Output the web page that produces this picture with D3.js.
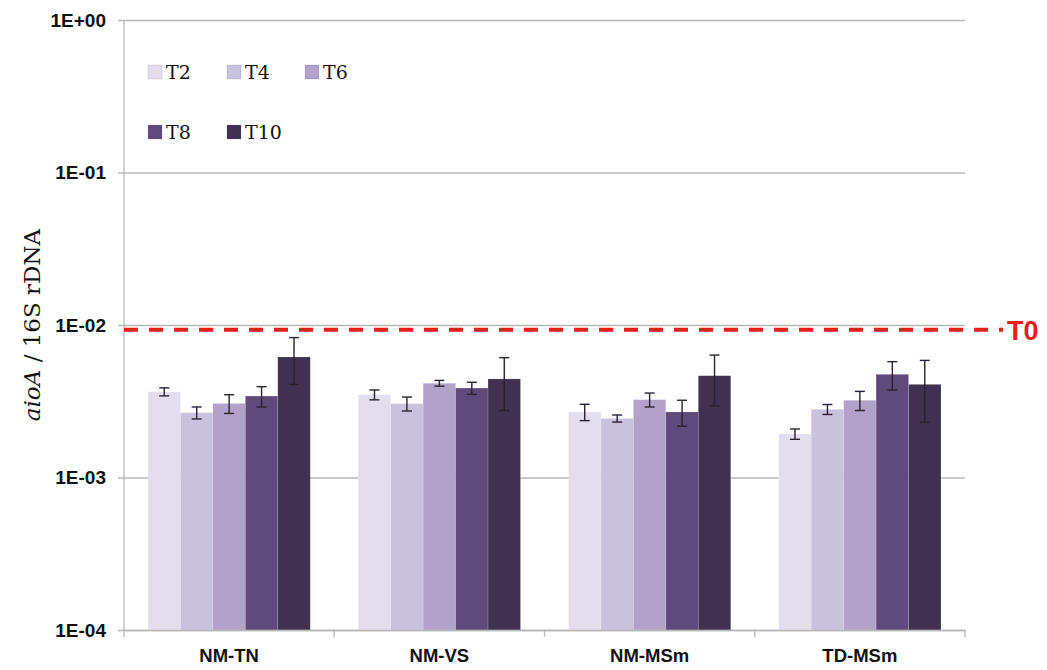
<!DOCTYPE html>
<html>
<head>
<meta charset="utf-8">
<script src="https://cdn.jsdelivr.net/npm/d3@7"></script>
<style>
  html, body { margin: 0; padding: 0; background: #fff; }
  svg { display: block; }
</style>
</head>
<body>
<svg id="chart" width="1047" height="670"></svg>
<script>
const categories = ["NM-TN", "NM-VS", "NM-MSm", "TD-MSm"];
const seriesNames = ["T2", "T4", "T6", "T8", "T10"];
const seriesColors = ["#e3deee", "#cac1dd", "#b1a2c9", "#5f4a7c", "#3f3150"];
const valuesT2  = [3.65e-3, 3.49e-3, 2.69e-3, 1.93e-3];
const valuesT4  = [2.66e-3, 3.05e-3, 2.44e-3, 2.80e-3];
const valuesT6  = [3.06e-3, 4.15e-3, 3.24e-3, 3.21e-3];
const valuesT8  = [3.42e-3, 3.86e-3, 2.69e-3, 4.75e-3];
const valuesT10 = [6.17e-3, 4.43e-3, 4.65e-3, 4.08e-3];
const errT2  = [0.22e-3, 0.26e-3, 0.33e-3, 0.15e-3];
const errT4  = [0.24e-3, 0.32e-3, 0.13e-3, 0.21e-3];
const errT6  = [0.43e-3, 0.18e-3, 0.34e-3, 0.46e-3];
const errT8  = [0.52e-3, 0.35e-3, 0.52e-3, 1.00e-3];
const errT10 = [2.10e-3, 1.68e-3, 1.70e-3, 1.78e-3];
const yTickValues = [1e-4, 1e-3, 1e-2, 1e-1, 1];
const yTickLabels = ["1E-04", "1E-03", "1E-02", "1E-01", "1E+00"];
const t0Value = 0.0093;
const t0Label = "T0";

const allValues = [valuesT2, valuesT4, valuesT6, valuesT8, valuesT10];
const allErrors = [errT2, errT4, errT6, errT8, errT10];
const data = [];
categories.forEach((c, ci) => {
  seriesNames.forEach((s, si) => {
    data.push({cat: c, series: s, si, value: allValues[si][ci], err: allErrors[si][ci]});
  });
});

const svg = d3.select("#chart");
svg.append("rect").attr("width", 1047).attr("height", 670).attr("fill", "#fff");

const pLeft = 124, pRight = 965, pTop = 20, pBottom = 630;
const y = d3.scaleLog().domain([1e-4, 1]).range([pBottom, pTop]);
const x0 = d3.scaleBand().domain(categories).range([pLeft, pRight]).paddingInner(0).paddingOuter(0);
const x1 = d3.scaleBand().domain(seriesNames).range([0, x0.bandwidth()]).paddingInner(0).paddingOuter(0.74);
const color = d3.scaleOrdinal().domain(seriesNames).range(seriesColors);

const gridColor = "#b8b8b8";

// Gridlines + y axis
const yAxis = d3.axisLeft(y).tickValues(yTickValues)
  .tickFormat((d, i) => yTickLabels[i])
  .tickSize(-(pRight - pLeft)).tickPadding(18);
const gy = svg.append("g").attr("transform", `translate(${pLeft},0)`).call(yAxis);
gy.select(".domain").remove();
gy.selectAll(".tick line").attr("stroke", gridColor).attr("stroke-width", 1.3).attr("x1", -6);
gy.selectAll(".tick text")
  .attr("font-family", "'Liberation Sans', Arial, sans-serif")
  .attr("font-weight", "bold").attr("font-size", 19).attr("fill", "#111");

// vertical axis line
svg.append("line").attr("x1", pLeft).attr("x2", pLeft).attr("y1", pTop).attr("y2", pBottom)
  .attr("stroke", gridColor).attr("stroke-width", 1.3);

// Bars
const groups = svg.append("g").selectAll("g").data(categories).join("g")
  .attr("transform", d => `translate(${x0(d)},0)`);
groups.selectAll("rect").data(c => data.filter(d => d.cat === c)).join("rect")
  .attr("x", d => x1(d.series))
  .attr("y", d => y(d.value))
  .attr("width", x1.bandwidth())
  .attr("height", d => y(1e-4) - y(d.value))
  .attr("fill", d => color(d.series))
  .attr("stroke", "rgba(255,255,255,0.25)").attr("stroke-width", 0.6);

// Error bars
const eb = groups.selectAll("g.err").data(c => data.filter(d => d.cat === c)).join("g").attr("class", "err");
eb.append("line")
  .attr("x1", d => x1(d.series) + x1.bandwidth() / 2)
  .attr("x2", d => x1(d.series) + x1.bandwidth() / 2)
  .attr("y1", d => y(d.value + d.err)).attr("y2", d => y(d.value - d.err))
  .attr("stroke", "#2a2230").attr("stroke-width", 1.4);
[1, -1].forEach(sgn => {
  eb.append("line")
    .attr("x1", d => x1(d.series) + x1.bandwidth() / 2 - 5)
    .attr("x2", d => x1(d.series) + x1.bandwidth() / 2 + 5)
    .attr("y1", d => y(d.value + sgn * d.err)).attr("y2", d => y(d.value + sgn * d.err))
    .attr("stroke", "#2a2230").attr("stroke-width", 1.4);
});

// x axis
const xAxis = d3.axisBottom(x0).tickSize(0).tickPadding(19);
const gx = svg.append("g").attr("transform", `translate(0,${pBottom})`).call(xAxis);
gx.select(".domain").attr("stroke", gridColor).attr("stroke-width", 1.3);
gx.selectAll(".tick text")
  .attr("font-family", "'Liberation Sans', Arial, sans-serif")
  .attr("font-weight", "bold").attr("font-size", 18.5).attr("fill", "#111");
// category boundary ticks
const boundaries = categories.map(c => x0(c)).concat([x0(categories[categories.length - 1]) + x0.bandwidth()]);
svg.append("g").selectAll("line").data(boundaries).join("line")
  .attr("x1", d => d).attr("x2", d => d).attr("y1", pBottom).attr("y2", pBottom + 7)
  .attr("stroke", gridColor).attr("stroke-width", 1.3);

// T0 line
svg.append("line").attr("x1", pLeft).attr("x2", 1003)
  .attr("y1", y(t0Value)).attr("y2", y(t0Value))
  .attr("stroke", "#e3201c").attr("stroke-width", 4).attr("stroke-dasharray", "14,11");
svg.append("text").attr("x", 1007).attr("y", y(t0Value) + 10)
  .attr("font-family", "'Liberation Sans', Arial, sans-serif")
  .attr("font-weight", "bold").attr("font-size", 27).attr("fill", "#e3201c")
  .text(t0Label);

// Y axis title
const yt = svg.append("text")
  .attr("transform", `translate(40,325) rotate(-90)`)
  .attr("text-anchor", "middle")
  .attr("font-family", "'DejaVu Serif', serif").attr("font-size", 23).attr("fill", "#111");
yt.append("tspan").attr("font-style", "italic").text("aioA");
yt.append("tspan").text(" / 16S rDNA");

// Legend
const legendPos = [
  {x: 148, y: 65}, {x: 227, y: 65}, {x: 305, y: 65},
  {x: 148, y: 125}, {x: 227, y: 125}
];
const lg = svg.append("g").selectAll("g").data(seriesNames).join("g")
  .attr("transform", (d, i) => `translate(${legendPos[i].x},${legendPos[i].y})`);
lg.append("rect").attr("width", 14).attr("height", 14).attr("fill", d => color(d))
  .attr("stroke", "rgba(120,100,150,0.3)").attr("stroke-width", 0.6);
lg.append("text").attr("x", 18).attr("y", 13.5)
  .attr("font-family", "'DejaVu Serif', serif").attr("font-size", 19).attr("fill", "#111")
  .text(d => d);
</script>
</body>
</html>
